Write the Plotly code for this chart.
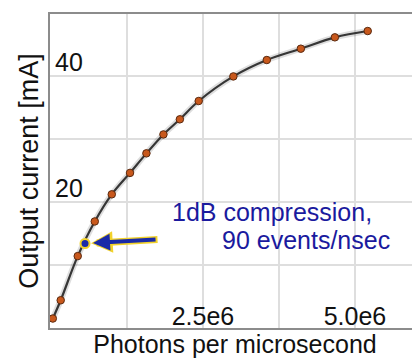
import plotly.graph_objects as go

# ---- data ----
photons = [0.03e6, 0.16e6, 0.44e6, 0.72e6, 1.00e6, 1.30e6, 1.57e6, 1.85e6,
           2.12e6, 2.43e6, 3.00e6, 3.55e6, 4.11e6, 4.67e6, 5.21e6]
current_ma = [1.5, 4.4, 11.4, 16.9, 21.2, 24.6, 27.7, 30.7,
              33.1, 36.0, 39.9, 42.5, 44.3, 46.1, 47.1]

compression_x = [0.56e6]
compression_y = [13.4]

x_tick_vals = [1.25e6, 2.5e6, 3.75e6, 5.0e6]
x_tick_text = ["", "2.5e6", "", "5.0e6"]
y_tick_vals = [10, 20, 30, 40]
y_tick_text = ["", "20", "", "40"]

label_line1 = "1dB compression,"
label_line2 = "90 events/nsec"

FONT = "Liberation Sans, Arial, Helvetica, sans-serif"

fig = go.Figure()

# soft shadow under the curve
fig.add_trace(go.Scatter(x=photons, y=current_ma, mode="lines",
                         line=dict(color="rgba(0,0,0,0.13)", width=6, shape="spline"),
                         hoverinfo="skip", showlegend=False))
# fitted curve
fig.add_trace(go.Scatter(x=photons, y=current_ma, mode="lines",
                         line=dict(color="#363636", width=2.2, shape="spline"),
                         showlegend=False))
# data points
fig.add_trace(go.Scatter(x=photons, y=current_ma, mode="markers",
                         marker=dict(color="#c8581c", size=7.5,
                                     line=dict(color="#5a2a10", width=1)),
                         showlegend=False))
# compression point
fig.add_trace(go.Scatter(x=compression_x, y=compression_y, mode="markers",
                         marker=dict(color="#1a2aa8", size=9,
                                     line=dict(color="#f2d22a", width=2)),
                         showlegend=False))

# arrow: yellow outline underneath, blue on top
fig.add_annotation(x=compression_x[0], y=compression_y[0], xref="x", yref="y",
                   ax=74, ay=-4, showarrow=True, arrowhead=2, arrowwidth=7,
                   arrowsize=0.62, arrowcolor="#f2d22a", standoff=6, text="")
fig.add_annotation(x=compression_x[0], y=compression_y[0], xref="x", yref="y",
                   ax=72, ay=-4, showarrow=True, arrowhead=2, arrowwidth=4,
                   arrowsize=0.85, arrowcolor="#1a2aa8", standoff=8, text="")

# the page body has an 8px default margin; the figure is laid out so that
# the visible window matches the reference
OFF = 8
W, H = 420 - OFF, 363 - OFF
L, R, T, B = 50 - OFF, 0, 14 - OFF, 363 - 328
pw, ph = W - L - R, H - T - B

fig.add_annotation(x=170, y=212, xref="paper", yref="paper", text=label_line1,
                   showarrow=False, xanchor="left", yanchor="middle",
                   font=dict(family=FONT, size=25, color="#1a1a9e"))
fig.add_annotation(x=220, y=240, xref="paper", yref="paper", text=label_line2,
                   showarrow=False, xanchor="left", yanchor="middle",
                   font=dict(family=FONT, size=25, color="#1a1a9e"))

# convert window-pixel positions of the text annotations into paper coordinates
for ann in fig.layout.annotations:
    if ann.xref == "paper":
        px, py = ann.x - OFF, ann.y - OFF
        ann.x = (px - L) / pw
        ann.y = 1 - (py - T) / ph

fig.update_layout(
    width=W, height=H,
    margin=dict(l=L, r=R, t=T, b=B, autoexpand=False),
    paper_bgcolor="white", plot_bgcolor="white",
    font=dict(family=FONT, color="#111111"),
    showlegend=False,
)
fig.update_xaxes(
    range=[-0.016e6, 6.07e6], automargin=False,
    tickvals=x_tick_vals, ticktext=x_tick_text,
    ticklabelposition="inside", ticks="",
    tickfont=dict(size=25, color="#111111"),
    showgrid=True, gridcolor="#dedede", gridwidth=1.5,
    showline=True, linecolor="#8c8c8c", linewidth=2, mirror=True,
    zeroline=False,
    title=dict(text="Photons per microsecond", font=dict(size=25, color="#111111"),
               standoff=6),
)
fig.update_yaxes(
    range=[0, 49.8], automargin=False,
    tickvals=y_tick_vals, ticktext=y_tick_text,
    ticklabelposition="inside top", ticks="", ticklabelstandoff=6,
    ticklabelshift=4,
    tickfont=dict(size=25, color="#111111"),
    showgrid=True, gridcolor="#dedede", gridwidth=1.5,
    showline=True, linecolor="#8c8c8c", linewidth=2,
    zeroline=False,
    title=dict(text="Output current [mA]", font=dict(size=27, color="#111111"),
               standoff=9),
)

fig.write_html("out.html")
